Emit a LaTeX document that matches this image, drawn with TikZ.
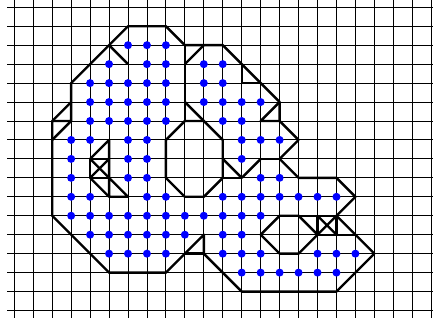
\documentclass[tikz,border=0pt]{standalone}
\begin{document}
\begin{tikzpicture}[x=18.95pt,y=-18.95pt,
  gridline/.style={black,line width=0.9pt},
  outline/.style={black,line width=2.4pt,line join=round},
  dot/.style={fill={rgb,255:red,0;green,0;blue,255}}]
\useasboundingbox (-0.7546,-0.385) rectangle (22.095,16.55);
\begin{scope}
\clip (-0.7546,-0.385) rectangle (22.095,16.55);
\foreach \i in {0,...,22} \draw[gridline] (\i,-0.37) -- (\i,16.37);
\foreach \j in {0,...,16} \draw[gridline] (-0.37,\j) -- (22.5,\j);
\end{scope}
% outer boundary
\draw[outline] (8,1) -- (6,1) -- (3,4) -- (3,6) -- (2,6) -- (2,11) -- (5,14) -- (8,14) -- (10,12) -- (10,13) -- (12,15) -- (17,15) -- (19,13) -- (17,11) -- (18,10) -- (17,9) -- (15,9) -- (14,8) -- (15,7) -- (14,6) -- (14,5) -- (11,2) -- (9,2) -- cycle;
% inner segments
\draw[outline] (5,2) -- (6,3);
\draw[outline] (3,5) -- (2,6);
\draw[outline] (3,6) -- (2,7);
\draw[outline] (9,2) -- (9,6);
\draw[outline] (9,3) -- (10,2);
\draw[outline] (12,3) -- (12,4) -- (13,4);
\draw[outline] (9,5) -- (10,6);
\draw[outline] (14,5) -- (13,6) -- (14,6);
\draw[outline] (13,8) -- (14,8);
\draw[outline] (9,13) -- (10,13);
\draw[outline] (9,6) -- (10,6) -- (11,7) -- (11,9) -- (10,10) -- (9,10) -- (8,9) -- (8,7) -- cycle;
\draw[outline] (11,8) -- (12,9) -- (13,8);
\draw[outline] (11,9) -- (12,9);
\draw[outline] (4,8) -- (5,7) -- (5,10) -- (6,10) -- (5,9);
\draw[outline] (4,8) rectangle (5,9);
\draw[outline] (4,8) -- (5,9) (4,9) -- (5,8);
\draw[outline] (4,9) -- (5,10);
\draw[outline] (13,12) -- (14,11) -- (15,11) -- (16,12) -- (15,13) -- (14,13) -- cycle;
\draw[outline] (15,11) -- (16,11);
\draw[outline] (16,11) rectangle (17,12);
\draw[outline] (16,11) -- (17,12) (16,12) -- (17,11);
\draw[outline] (17,12) -- (18,12);
% dots
\foreach \j/\row in {2/{6,7,8},3/{5,7,8,10,11},4/{4,5,6,7,8,10,11},5/{4,5,6,7,8,10,11,12,13},6/{4,5,6,7,8,11,12},7/{3,4,6,7,12,13,14},8/{3,6,7,12},9/{3,6,7,13,14},10/{3,4,7,8,11,12,13,14,15,16,17},11/{3,4,5,6,7,8,9,10,11,12,13},12/{4,5,6,7,8,9,11,12},13/{5,6,7,8,11,12,13,16,17,18},14/{12,13,14,15,16,17}}
  \foreach \i in \row \fill[dot] (\i,\j) circle (4pt);
\end{tikzpicture}
\end{document}
